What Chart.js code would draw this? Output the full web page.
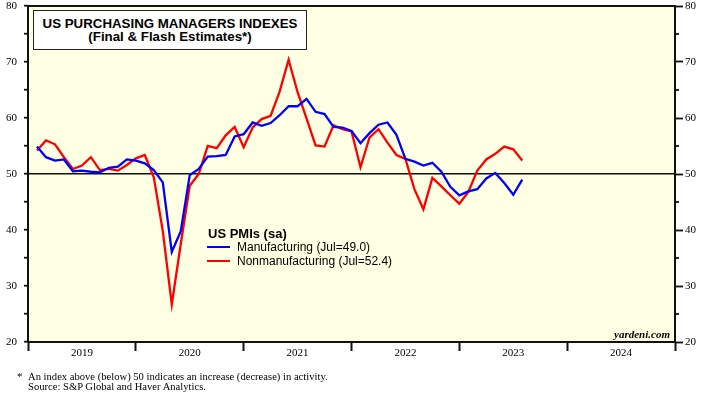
<!DOCTYPE html>
<html>
<head>
<meta charset="utf-8">
<script src="https://cdn.jsdelivr.net/npm/chart.js@4/dist/chart.umd.min.js"></script>
<style>
  body { margin:0; background:#fff; }
  #wrap { position:relative; width:714px; height:395px; overflow:hidden; }
  canvas { position:absolute; left:0; top:0; }
  .ov { position:absolute; white-space:nowrap; color:#000; }
  #titleBox { left:33px; top:10px; width:274px; height:40px; box-sizing:border-box;
    border:1.5px solid #222; background:#fff; }
  #titleTxt { left:33px; top:16.5px; width:274px; text-align:center;
    font:bold 13.3px "Liberation Sans", Arial, sans-serif; line-height:13.4px; }
  .lg { font:12px "Liberation Sans", Arial, sans-serif; line-height:14px; }
  .sw { position:absolute; width:23px; height:2.5px; }
  .foot { font:10.6px "Liberation Serif", "Times New Roman", serif; line-height:10px; }
</style>
</head>
<body>
<div id="wrap">
  <canvas id="pmiChart" width="714" height="395"></canvas>
  <div id="titleBox" class="ov"></div>
  <div id="titleTxt" class="ov">US PURCHASING MANAGERS INDEXES<br>(Final &amp; Flash Estimates*)</div>

  <div class="ov" style="left:208px;top:227px;font:bold 13px 'Liberation Sans',Arial,sans-serif;line-height:13px;">US PMIs (sa)</div>
  <div class="sw" style="left:207px;top:245.5px;background:#0000ff;"></div>
  <div class="ov lg" style="left:237px;top:239.5px;">Manufacturing (Jul=49.0)</div>
  <div class="sw" style="left:207px;top:259.5px;background:#ff0000;"></div>
  <div class="ov lg" style="left:237px;top:253.5px;">Nonmanufacturing (Jul=52.4)</div>

  <div class="ov" style="right:44px;top:329px;font:italic bold 11px 'Liberation Serif','Times New Roman',serif;line-height:11px;">yardeni.com</div>

  <div class="ov foot" style="left:17px;top:372px;">*</div>
  <div class="ov foot" style="left:28px;top:372px;">An index above (below) 50 indicates an increase (decrease) in activity.</div>
  <div class="ov foot" style="left:28px;top:382px;">Source: S&amp;P Global and Haver Analytics.</div>
</div>

<script>
// monthly data, Jan 2019 .. Jul 2023
const startYear = 2019;
const years = ['2019','2020','2021','2022','2023','2024'];

const mfg = [
  54.9,53.0,52.4,52.6,50.5,50.6,50.4,50.3,51.1,51.3,52.6,52.4,
  51.9,50.7,48.5,36.1,39.8,49.8,50.9,53.1,53.2,53.4,56.7,57.1,
  59.2,58.6,59.1,60.5,62.1,62.1,63.4,61.1,60.7,58.4,58.3,57.7,
  55.5,57.3,58.8,59.2,57.0,52.7,52.2,51.5,52.0,50.4,47.7,46.2,
  46.9,47.3,49.2,50.2,48.4,46.3,49.0
];
const nonMfg = [
  54.2,56.0,55.3,53.0,50.9,51.5,53.0,50.7,50.9,50.6,51.6,52.8,
  53.4,49.4,39.8,26.7,37.5,47.9,50.0,55.0,54.6,56.9,58.4,54.8,
  58.3,59.8,60.4,64.7,70.4,64.6,59.9,55.1,54.9,58.7,58.0,57.6,
  51.2,56.5,58.0,55.6,53.4,52.7,47.3,43.7,49.3,47.8,46.2,44.7,
  46.8,50.6,52.6,53.6,54.9,54.4,52.4
];

// x = months since start of 2019, value plotted at month end
function toPoints(arr){ return arr.map((v,i) => ({x:i+1, y:v})); }

Chart.defaults.font.family = '"Liberation Serif", "Times New Roman", serif';
Chart.defaults.font.size = 11;
Chart.defaults.color = '#000';

const framePlugin = {
  id:'frame',
  beforeDraw(chart){
    const {ctx, chartArea:a} = chart;
    ctx.save();
    ctx.fillStyle = '#ffffe3';
    ctx.fillRect(a.left, a.top, a.width, a.height);
    ctx.restore();
  },
  afterDraw(chart){
    const {ctx, chartArea:a} = chart;
    const yR = chart.scales.yR;
    ctx.save();
    ctx.strokeStyle = '#111';
    ctx.lineWidth = 2;
    ctx.strokeRect(a.left, a.top, a.width, a.height);
    // short minor ticks on right axis
    ctx.lineWidth = 1.8;
    for(let v = 25; v < 80; v += 10){
      const y = yR.getPixelForValue(v);
      ctx.beginPath(); ctx.moveTo(a.right, y); ctx.lineTo(a.right + 4, y); ctx.stroke();
    }
    ctx.restore();
  }
};

function fitY(w){
  return s => { s.width = w; s.paddingTop = 0; s.paddingBottom = 0; };
}

new Chart(document.getElementById('pmiChart'), {
  type:'line',
  data:{
    datasets:[
      {label:'Manufacturing', data:toPoints(mfg), borderColor:'#0000ff', borderWidth:2.3, pointRadius:0, tension:0, fill:false},
      {label:'Nonmanufacturing', data:toPoints(nonMfg), borderColor:'#ff0000', borderWidth:2.3, pointRadius:0, tension:0, fill:false}
    ]
  },
  options:{
    responsive:false,
    animation:false,
    layout:{padding:{top:6, left:0, right:0, bottom:0}},
    plugins:{legend:{display:false}, tooltip:{enabled:false}},
    scales:{
      x:{
        type:'linear', min:0, max:72,
        afterFit(s){ s.height = 53; s.paddingLeft = 0; s.paddingRight = 0; },
        ticks:{stepSize:6, autoSkip:false, maxRotation:0, padding:-4,
          callback:v => (v % 12 === 6) ? years[(v - 6) / 12] : ''},
        grid:{drawOnChartArea:false, tickLength:9, tickWidth:2,
          tickColor:c => (c.tick && c.tick.value % 12 === 0) ? '#111' : 'rgba(0,0,0,0)'},
        border:{display:false}
      },
      y:{
        position:'left', min:20, max:80,
        afterFit:fitY(28),
        ticks:{stepSize:5, padding:7, callback:v => (v % 10 === 0) ? v : ''},
        grid:{drawOnChartArea:true, lineWidth:1.4, tickLength:4, tickWidth:1.8, tickColor:'#111',
          color:c => (c.tick && c.tick.value === 50) ? '#111' : 'rgba(0,0,0,0)'},
        border:{display:false}
      },
      yR:{
        position:'right', min:20, max:80,
        afterFit:fitY(39),
        ticks:{stepSize:5, padding:2, callback:v => (v % 10 === 0) ? v : ''},
        grid:{drawOnChartArea:false, tickLength:8, tickWidth:1.8,
          tickColor:c => (c.tick && c.tick.value % 10 === 0) ? '#111' : 'rgba(0,0,0,0)'},
        border:{display:false}
      }
    }
  },
  plugins:[framePlugin]
});
</script>
</body>
</html>
